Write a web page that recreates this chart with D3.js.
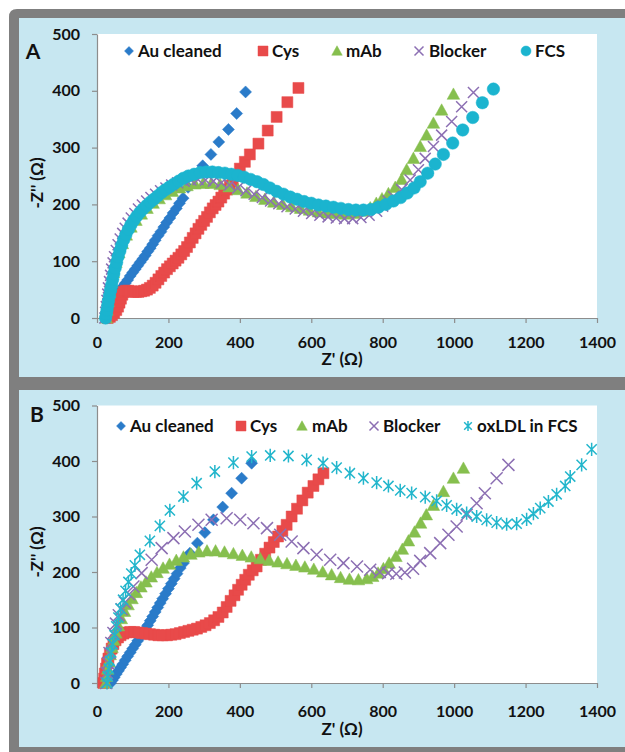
<!DOCTYPE html>
<html><head><meta charset="utf-8">
<script src="https://cdn.jsdelivr.net/npm/d3@7"></script>
<style>
html,body{margin:0;padding:0;background:#fff}
svg{display:block}
text{font-family:Lato,"Open Sans",sans-serif;font-weight:bold;fill:#111}
</style>
</head><body>
<svg id="chart" width="625" height="752"></svg>
<script>
const xTicks=[0,200,400,600,800,1000,1200,1400];
const yTicks=[0,100,200,300,400,500];
const namesA=["Au cleaned","Cys","mAb","Blocker","FCS"];
const namesB=["Au cleaned","Cys","mAb","Blocker","oxLDL in FCS"];
const xTitle="Z' (\u03A9)";
const yTitle="-Z'' (\u03A9)";

// Panel A
const aAuCleaned=[[28,0],[31,6],[35,13],[39,19],[44,26],[49,32],[54,38],[60,44],[66,50],[72,55],[79,61],[86,67],[93,74],[100,80],[107,86],[114,92],[121,98],[128,104],[135,110],[142,117],[149,123],[156,130],[163,137],[171,145],[179,152],[187,160],[195,168],[204,176],[213,185],[222,193],[231,202],[241,211],[255,230],[270,249],[296,268],[319,288],[341,310],[368,332],[391,360],[416,398]];
const aCys=[[30,0],[36,2],[42,5],[48,9],[54,14],[59,20],[63,27],[67,34],[71,41],[75,46],[81,48],[88,48],[95,47],[102,46],[109,46],[116,46],[124,47],[132,48],[140,50],[148,53],[156,57],[164,62],[172,68],[180,74],[188,80],[196,86],[204,91],[212,96],[220,101],[228,106],[236,112],[244,118],[252,125],[260,133],[268,141],[276,149],[284,157],[292,164],[300,171],[308,178],[316,186],[324,193],[332,199],[340,205],[348,212],[356,219],[364,226],[372,233],[380,241],[388,250],[400,263],[414,275],[428,288],[452,307],[478,330],[503,354],[533,380],[564,405]];
const aMAb=[[26,0],[28,14],[31,29],[35,45],[40,62],[46,80],[53,98],[61,115],[71,131],[82,146],[95,160],[109,172],[124,183],[140,193],[157,202],[174,210],[192,217],[211,223],[231,229],[252,233],[274,236],[297,237],[320,237],[345,235],[370,231],[395,226],[420,220],[445,214],[470,209],[495,204],[520,200],[545,196],[570,193],[595,190],[620,187],[645,185],[670,184],[695,183],[720,184],[745,188],[765,194],[782,202],[798,210],[816,219],[835,230],[853,244],[867,261],[886,281],[905,302],[923,322],[942,343],[965,366],[998,394]];
const aBlocker=[[22,0],[24,10],[26,20],[28,31],[30,42],[32,53],[35,64],[38,75],[41,86],[45,97],[49,108],[54,119],[59,129],[65,139],[72,149],[79,158],[87,167],[96,176],[106,184],[116,192],[127,199],[139,206],[151,212],[164,218],[178,224],[193,229],[209,234],[226,238],[244,241],[263,243],[283,244],[304,243],[326,241],[348,238],[371,234],[394,229],[417,224],[440,218],[463,212],[486,206],[509,201],[532,196],[555,192],[578,188],[601,184],[624,181],[647,178],[670,176],[693,175],[716,175],[739,177],[762,181],[783,188],[800,197],[815,206],[830,214],[853,226],[877,243],[900,261],[919,281],[942,302],[965,322],[993,346],[1021,372],[1054,397]];
const aFCS=[[24,0],[26,7],[28,14],[30,22],[32,30],[35,39],[38,49],[41,58],[44,68],[47,78],[51,88],[55,98],[59,108],[64,118],[69,128],[75,138],[81,147],[88,156],[95,164],[103,172],[111,179],[120,186],[129,192],[139,198],[149,204],[159,209],[170,215],[181,221],[192,226],[204,231],[216,236],[229,241],[242,246],[256,250],[272,253],[289,256],[306,257],[323,257],[340,256],[358,255],[376,253],[394,251],[412,248],[430,244],[448,240],[466,235],[484,229],[503,223],[522,218],[541,213],[560,209],[580,205],[600,202],[620,199],[641,197],[662,195],[683,193],[704,191],[725,190],[746,190],[767,191],[788,195],[809,200],[830,206],[850,212],[869,220],[888,229],[905,240],[926,255],[947,271],[970,288],[996,308],[1024,331],[1052,353],[1079,379],[1110,403]];

// Panel B
const bAuCleaned=[[38,0],[43,5],[48,10],[54,16],[60,22],[66,28],[72,34],[79,41],[86,48],[93,55],[100,62],[107,69],[114,76],[121,83],[128,90],[135,97],[142,104],[149,112],[156,120],[163,128],[170,136],[177,144],[184,152],[192,161],[200,170],[208,179],[216,188],[224,197],[233,207],[242,216],[260,234],[281,252],[302,271],[326,294],[352,317],[377,342],[405,369],[433,396]];
const bCys=[[18,0],[20,8],[22,17],[25,26],[28,35],[32,44],[36,53],[41,62],[46,70],[52,77],[59,82],[66,86],[74,89],[83,91],[93,92],[104,92],[115,91],[126,90],[137,89],[148,88],[160,87],[172,86],[184,86],[196,86],[208,87],[220,88],[232,90],[244,92],[256,94],[268,96],[280,98],[292,101],[304,104],[316,108],[328,113],[340,119],[352,127],[363,137],[374,148],[385,158],[395,168],[405,177],[415,186],[425,195],[436,203],[447,210],[459,222],[471,233],[483,244],[495,254],[507,264],[519,274],[531,285],[545,300],[560,314],[575,329],[590,343],[606,355],[620,367],[634,378]];
const bMAb=[[25,0],[27,12],[30,25],[33,38],[37,51],[42,64],[47,77],[53,90],[60,103],[68,116],[77,129],[87,141],[98,152],[110,163],[123,173],[137,182],[152,191],[168,199],[185,207],[203,214],[222,221],[242,227],[263,232],[285,236],[308,238],[332,238],[357,236],[382,233],[407,230],[432,227],[457,224],[482,221],[507,218],[532,215],[557,212],[582,209],[607,205],[632,200],[657,195],[682,190],[707,187],[732,186],[755,188],[772,192],[787,198],[802,206],[818,216],[837,228],[855,241],[872,256],[889,272],[906,288],[922,303],[942,320],[970,345],[998,369],[1026,387]];
const bBlocker=[[26,0],[28,18],[31,36],[35,54],[40,72],[46,90],[53,107],[61,122],[69,133],[78,145],[90,160],[102,174],[125,198],[153,222],[181,243],[214,261],[246,273],[284,285],[321,294],[363,297],[401,294],[438,288],[476,279],[513,267],[545,255],[578,243],[615,231],[653,222],[690,216],[728,210],[765,204],[792,200],[815,198],[838,197],[862,199],[885,206],[905,220],[933,234],[961,252],[984,267],[1007,282],[1035,303],[1063,324],[1086,342],[1119,369],[1152,393]];
const bOxLDL=[[28,0],[30,12],[33,26],[36,40],[40,55],[44,70],[49,86],[54,102],[60,118],[66,134],[73,150],[80,166],[88,182],[96,197],[106,212],[120,231],[148,256],[176,283],[204,311],[242,336],[279,360],[330,381],[382,397],[433,408],[485,410],[536,409],[587,402],[633,396],[671,388],[708,378],[746,369],[783,361],[816,355],[849,347],[881,342],[919,335],[951,328],[979,320],[1007,313],[1035,306],[1063,300],[1091,294],[1119,289],[1147,286],[1175,287],[1203,295],[1222,305],[1241,315],[1264,327],[1287,340],[1311,355],[1325,372],[1357,393],[1385,421]];

const COLORS={diamond:"#2a7bc9",square:"#e84a4a",triangle:"#86bf4e",x:"#8c6fb3",circle:"#1bb4cf",star:"#22b6cc"};

function markerPath(type,s){
  const h=s/2;
  switch(type){
    case "diamond": return `M0,${-h}L${h},0L0,${h}L${-h},0Z`;
    case "square": return `M${-h},${-h}H${h}V${h}H${-h}Z`;
    case "triangle": return `M0,${-h*1.05}L${h*1.05},${h*0.85}L${-h*1.05},${h*0.85}Z`;
    case "circle": return `M${h},0A${h},${h} 0 1,1 ${-h},0A${h},${h} 0 1,1 ${h},0Z`;
    case "x": return `M${-h},${-h}L${h},${h}M${-h},${h}L${h},${-h}`;
    case "star": return `M${-h*0.85},${-h*0.85}L${h*0.85},${h*0.85}M${-h*0.85},${h*0.85}L${h*0.85},${-h*0.85}M0,${-h*1.1}V${h*1.1}`;
  }
}
function styleMarker(sel,type){
  const c=COLORS[type];
  if(type==="x"||type==="star"){sel.attr("fill","none").attr("stroke",c).attr("stroke-width",1.5);}
  else {sel.attr("fill",c).attr("stroke",c).attr("stroke-width",0.5);}
}

const svg=d3.select("#chart");
svg.append("rect").attr("x",0).attr("y",0).attr("width",625).attr("height",752).attr("fill","#fff");
svg.append("path").attr("d","M9,17Q9,9 17,9H625V752H9Z").attr("fill","#7f7f7f");

const symbols=["diamond","square","triangle","x","circle"];
const symbolsB=["diamond","square","triangle","x","star"];

const panels=[
  {letter:"A",letterPos:[33,51],bg:[19,18,606,359],y0:318,y1:34,series:[aAuCleaned,aCys,aMAb,aBlocker,aFCS],names:namesA,syms:symbols,
   sizes:{diamond:12,square:11,triangle:12,x:11,circle:12.5},
   legend:{y:51,sym:[129,263,337,419,526],txt:[138,272,346,429,535]},xPad:14,xTitlePos:[342,359],yTitlePos:[37,183]},
  {letter:"B",letterPos:[37,414],bg:[19,390,606,357],y0:683,y1:405.5,series:[bAuCleaned,bCys,bMAb,bBlocker,bOxLDL],names:namesB,syms:symbolsB,
   sizes:{diamond:12,square:11,triangle:12,x:12,star:12},
   legend:{y:426,sym:[121,241,302,374,468],txt:[130,250,312,383,477]},xPad:18,xTitlePos:[342,729],yTitlePos:[37,552]}
];

panels.forEach(p=>{
  const g=svg.append("g");
  g.append("rect").attr("x",p.bg[0]).attr("y",p.bg[1]).attr("width",p.bg[2]).attr("height",p.bg[3]).attr("fill","#c7e7f1");
  const x=d3.scaleLinear().domain([0,1400]).range([97,597]);
  const y=d3.scaleLinear().domain([0,500]).range([p.y0,p.y1]);
  g.append("rect").attr("x",x(0)).attr("y",y(500)).attr("width",x(1400)-x(0)).attr("height",y(0)-y(500)).attr("fill","#fff");

  const xa=g.append("g").attr("transform",`translate(0,${y(0)})`)
    .call(d3.axisBottom(x).tickValues(xTicks).tickFormat(d3.format("d")).tickSize(5).tickSizeOuter(0).tickPadding(p.xPad));
  const ya=g.append("g").attr("transform",`translate(${x(0)},0)`)
    .call(d3.axisLeft(y).tickValues(yTicks).tickFormat(d3.format("d")).tickSize(5).tickSizeOuter(0).tickPadding(12));
  [xa,ya].forEach(a=>{
    a.attr("font-family",null).attr("font-size",null);
    a.selectAll(".domain").attr("stroke","#8d8d8d").attr("stroke-width",1.2);
    a.selectAll(".tick line").attr("stroke","#8d8d8d").attr("stroke-width",1.2);
    a.selectAll(".tick text").attr("fill","#111").style("font-size","16px");
  });

  p.series.forEach((data,i)=>{
    const t=p.syms[i];
    const s=p.sizes[t];
    const sg=g.append("g");
    sg.selectAll("path").data(data).join("path")
      .attr("d",markerPath(t,s))
      .attr("transform",d=>`translate(${x(d[0])},${y(d[1])})`)
      .call(styleMarker,t);
  });

  p.names.forEach((n,i)=>{
    const t=p.syms[i];
    const ls={diamond:9,square:10,triangle:10,x:9,circle:10,star:9}[t];
    g.append("path").attr("d",markerPath(t,ls)).attr("transform",`translate(${p.legend.sym[i]},${p.legend.y})`).call(styleMarker,t);
    g.append("text").attr("x",p.legend.txt[i]).attr("y",p.legend.y).attr("dy","0.35em").style("font-size","17px").text(n);
  });

  g.append("text").attr("x",p.letterPos[0]).attr("y",p.letterPos[1]).attr("dy","0.36em").attr("text-anchor","middle").style("font-size","21px").text(p.letter);
  g.append("text").attr("x",p.xTitlePos[0]).attr("y",p.xTitlePos[1]).attr("dy","0.35em").attr("text-anchor","middle").style("font-size","17px").text(xTitle);
  g.append("text").attr("transform",`translate(${p.yTitlePos[0]},${p.yTitlePos[1]}) rotate(-90)`).attr("dy","0.35em").attr("text-anchor","middle").style("font-size","17px").text(yTitle);
});
</script>
</body></html>
